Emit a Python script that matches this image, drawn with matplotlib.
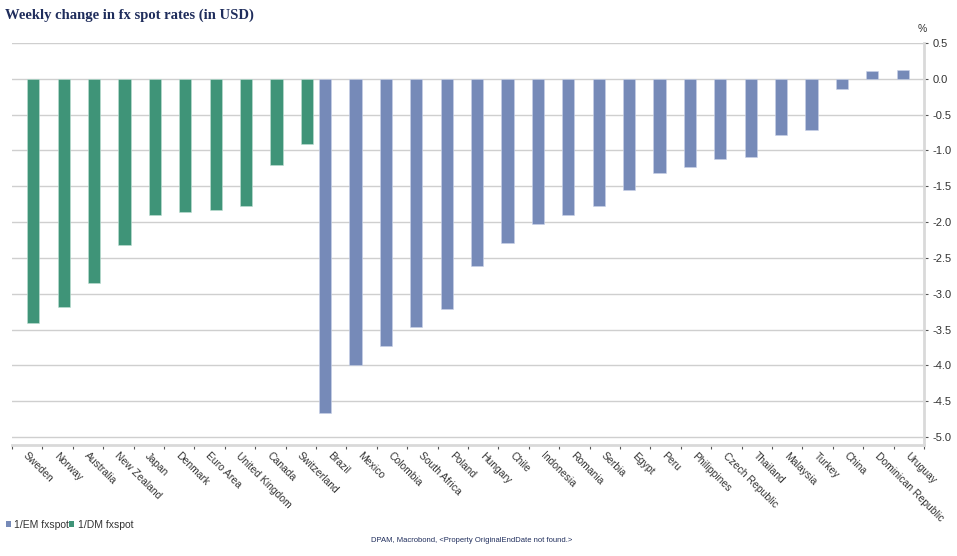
import numpy as np
import matplotlib
matplotlib.use("Agg")
import matplotlib.pyplot as plt
from matplotlib.patches import Patch

dm_countries = ["Sweden", "Norway", "Australia", "New Zealand", "Japan", "Denmark",
                "Euro Area", "United Kingdom", "Canada", "Switzerland"]
dm_values = [-3.41, -3.18, -2.85, -2.32, -1.90, -1.86, -1.83, -1.77, -1.20, -0.91]

em_countries = ["Brazil", "Mexico", "Colombia", "South Africa", "Poland", "Hungary", "Chile",
                "Indonesia", "Romania", "Serbia", "Egypt", "Peru", "Philippines",
                "Czech Republic", "Thailand", "Malaysia", "Turkey", "China",
                "Dominican Republic", "Uruguay"]
em_values = [-4.66, -3.99, -3.73, -3.47, -3.21, -2.61, -2.29, -2.03, -1.90, -1.78, -1.55,
             -1.32, -1.23, -1.12, -1.09, -0.79, -0.72, -0.14, 0.11, 0.12]

y_ticks = [0.5, 0.0, -0.5, -1.0, -1.5, -2.0, -2.5, -3.0, -3.5, -4.0, -4.5, -5.0]

title = "Weekly change in fx spot rates (in USD)"
footer = "DPAM, Macrobond, <Property OriginalEndDate not found.>"

DM_COLOR = "#3F9478"
EM_COLOR = "#768AB8"
TEXT = "#333333"

categories = dm_countries + em_countries
n = len(categories)
x = np.arange(n)
dm_full = np.array(dm_values + [np.nan] * len(em_countries))
em_full = np.array([np.nan] * len(dm_countries) + em_values)

fig = plt.figure(figsize=(9.57, 5.56), dpi=100)
ax = fig.add_axes([12 / 957, 1 - 445 / 556, (924 - 12) / 957, (445 - 43) / 556])

ax.bar(x - 0.4, em_full, width=0.4, align="edge", color=EM_COLOR,
       edgecolor="#C9D2E8", linewidth=0.4, zorder=3)
ax.bar(x, dm_full, width=0.4, align="edge", color=DM_COLOR,
       edgecolor="#BFE0D4", linewidth=0.4, zorder=3)

ax.set_xlim(-0.5, n - 0.5)
ax.set_ylim(-5.11, 0.5)

# grid
ax.set_yticks(y_ticks)
ax.grid(axis="y", color="#CFCFCF", linewidth=1.0, zorder=0)
ax.yaxis.tick_right()
ax.tick_params(axis="y", which="major", length=3, width=0.8, color="#555555",
               labelsize=8, labelcolor=TEXT, pad=3)
ax.set_yticklabels([f"{v:.1f}" for v in y_ticks], family="Liberation Sans")

# x ticks: boundaries with marks, centers with labels
ax.set_xticks(np.arange(n + 1) - 0.5, minor=True)
ax.set_xticks(x + 0.05)
ax.tick_params(axis="x", which="minor", length=3, width=0.8, color="#555555")
ax.tick_params(axis="x", which="major", length=0, pad=4)
ax.set_xticklabels(categories, rotation=-45, ha="left", va="top",
                   rotation_mode="anchor", fontsize=7.5, color=TEXT,
                   family="Liberation Sans")

for side in ["top", "left"]:
    ax.spines[side].set_visible(False)
ax.spines["right"].set_color("#D9D9D9")
ax.spines["right"].set_linewidth(2)
ax.spines["bottom"].set_color("#D9D9D9")
ax.spines["bottom"].set_linewidth(2)

fig.text(922 / 957, 1 - 29 / 556, "%", fontsize=7.5, color=TEXT,
         ha="center", va="center", family="Liberation Sans")

fig.text(5 / 957, 1 - 15 / 556, title, fontsize=10.5, fontweight="bold",
         color="#1F2D5C", family="Liberation Serif", ha="left", va="center")

handles = [Patch(facecolor=EM_COLOR, edgecolor="none", label="1/EM fxspot"),
           Patch(facecolor=DM_COLOR, edgecolor="none", label="1/DM fxspot")]
fig.legend(handles=handles, loc="center left", bbox_to_anchor=(6 / 957, 1 - 525 / 556),
           ncol=2, frameon=False, handlelength=0.5, handleheight=0.5,
           handletextpad=0.3, columnspacing=0.0, borderaxespad=0, borderpad=0,
           prop={"family": "Liberation Sans", "size": 7.5})
for t in fig.legends[0].get_texts():
    t.set_color(TEXT)

fig.text(472 / 957, 1 - 541 / 556, footer, fontsize=5.5, color="#1F2D5C",
         ha="center", va="center", family="Liberation Sans")

fig.savefig("out.png", dpi=100)
